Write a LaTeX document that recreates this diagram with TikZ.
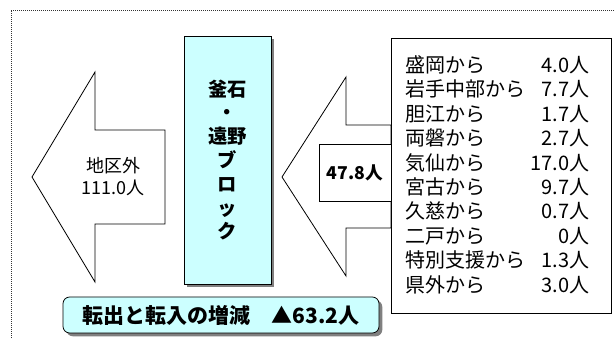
\documentclass[tikz,border=0pt]{standalone}
\usepackage{fontspec}
\setmainfont{Noto Sans CJK JP}
\usepackage{tikz}
\usetikzlibrary{positioning,shadows}
\definecolor{kbCyan}{RGB}{204,255,255}
\definecolor{kbShadow}{RGB}{128,128,128}
\newcommand{\listfont}{\fontsize{15}{18}\selectfont}

\begin{document}
\begin{tikzpicture}[x=0.75pt, y=-0.75pt, line width=0.6pt]
\tikzstyle{cyanbox}=[draw=black, fill=kbCyan, drop shadow={shadow xshift=2.5pt, shadow yshift=-2.5pt, fill=kbShadow, opacity=1}]
\tikzstyle{arrowbody}=[draw=black, fill=white, line join=miter]
\tikzstyle{plainbox}=[draw=black, fill=white, inner sep=0pt]
\useasboundingbox (0,0) rectangle (614,338);
\draw[line width=0.4pt, black!80, dash pattern=on 0.5pt off 1pt] (11,338) -- (11,10) -- (614,10);
% outflow arrow
\draw[arrowbody] (32,177) -- (95,72) -- (95,130) -- (165,130) -- (165,224) -- (95,224) -- (95,282) -- cycle;
\node[align=center, font=\fontsize{13.5}{16.5}\selectfont] (outside) at (113,177) {地区外\\111.0人};
% inflow arrow
\draw[arrowbody] (282,177) -- (346,77) -- (346,125) -- (391,125) -- (391,228) -- (346,228) -- (346,276) -- cycle;
\node[plainbox, minimum width=54pt, minimum height=42.75pt, font=\fontsize{13.25}{15}\selectfont\bfseries] (total) at (355,172.5) {47.8人};
% block
\node[cyanbox, minimum width=65.25pt, minimum height=186pt, align=center, font=\fontsize{14.5}{17.85}\selectfont\bfseries] (block) at (227.5,160) {釜石\\・\\遠野\\ブ\\ロ\\ッ\\ク};
% sources
\node[plainbox, minimum width=165pt, minimum height=206.25pt] (sources) at (501,175.5) {};
\foreach \src/\val [count=\i] in {盛岡から/4.0人, 岩手中部から/7.7人, 胆江から/1.7人, 両磐から/2.7人, 気仙から/17.0人, 宮古から/9.7人, 久慈から/0.7人, 二戸から/0人, 特別支援から/1.3人, 県外から/3.0人}{
  \node[anchor=base west, inner sep=0pt, font=\listfont] (src\i) at (405,{72.5+24.4*(\i-1)}) {\src};
  \node[anchor=base east, inner sep=0pt, font=\listfont] (val\i) at (590,{72.5+24.4*(\i-1)}) {\val};
}
% balance
\node[cyanbox, rounded corners=5pt, minimum width=237pt, minimum height=27pt, font=\fontsize{15.75}{18}\selectfont\bfseries] (balance) at (221,315) {転出と転入の増減\quad ▲63.2人};
\end{tikzpicture}
\end{document}
